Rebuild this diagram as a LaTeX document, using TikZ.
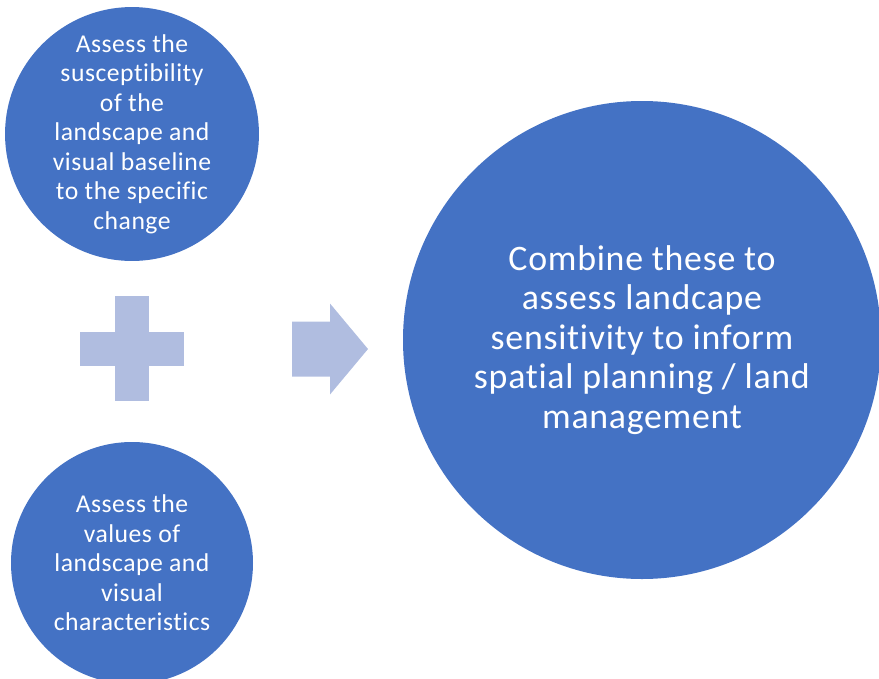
\documentclass[tikz,border=0pt]{standalone}
\usepackage{fontspec}
\setmainfont[Ligatures=NoCommon,LetterSpace=2]{Carlito}
\usepackage{xcolor}
\usepackage{tikz}
\usetikzlibrary{shapes,calc,positioning}

\definecolor{stepblue}{RGB}{68,114,196}
\definecolor{signblue}{RGB}{176,189,224}

\tikzset{
  smallcirc/.style={circle, fill=stepblue, minimum size=7.26cm, inner sep=0pt,
    text=white, align=center, font=\fontsize{21.9}{25.2}\selectfont},
  bigcirc/.style={circle, fill=stepblue, minimum size=14.34cm, inner sep=0pt,
    text=white, align=center, font=\fontsize{30.6}{33.7}\selectfont},
  bar/.style={fill=signblue, inner sep=0pt}
}

\begin{document}
\begin{tikzpicture}

\useasboundingbox (0,0) rectangle (26.37,-20.37);

\node[smallcirc](susc) at (3.96,-4.02) {Assess the\\ susceptibility\\ of the\\ landscape and\\ visual baseline\\ to the specific\\ change};
\node[smallcirc](vals) at (3.96,-16.89) {Assess the\\ values of\\ landscape and\\ visual\\ characteristics};

\node[bigcirc](comb) at (19.26,-10.2) {Combine these to\\ assess landcape\\ sensitivity to inform\\ spatial planning / land\\ management};

\node[bar, minimum width=3.12cm, minimum height=1.02cm](plush) at (3.96,-10.46) {};
\node[bar, minimum width=1.02cm, minimum height=3.15cm](plusv) at (plush.center) {};

\coordinate(arr) at (8.76,-10.47);
\fill[signblue] (arr) ++(0,0.825) -- ++(1.14,0) -- ++(0,0.54) -- ++(1.14,-1.365)
  -- ++(-1.14,-1.365) -- ++(0,0.54) -- ++(-1.14,0) -- cycle;

\end{tikzpicture}
\end{document}
